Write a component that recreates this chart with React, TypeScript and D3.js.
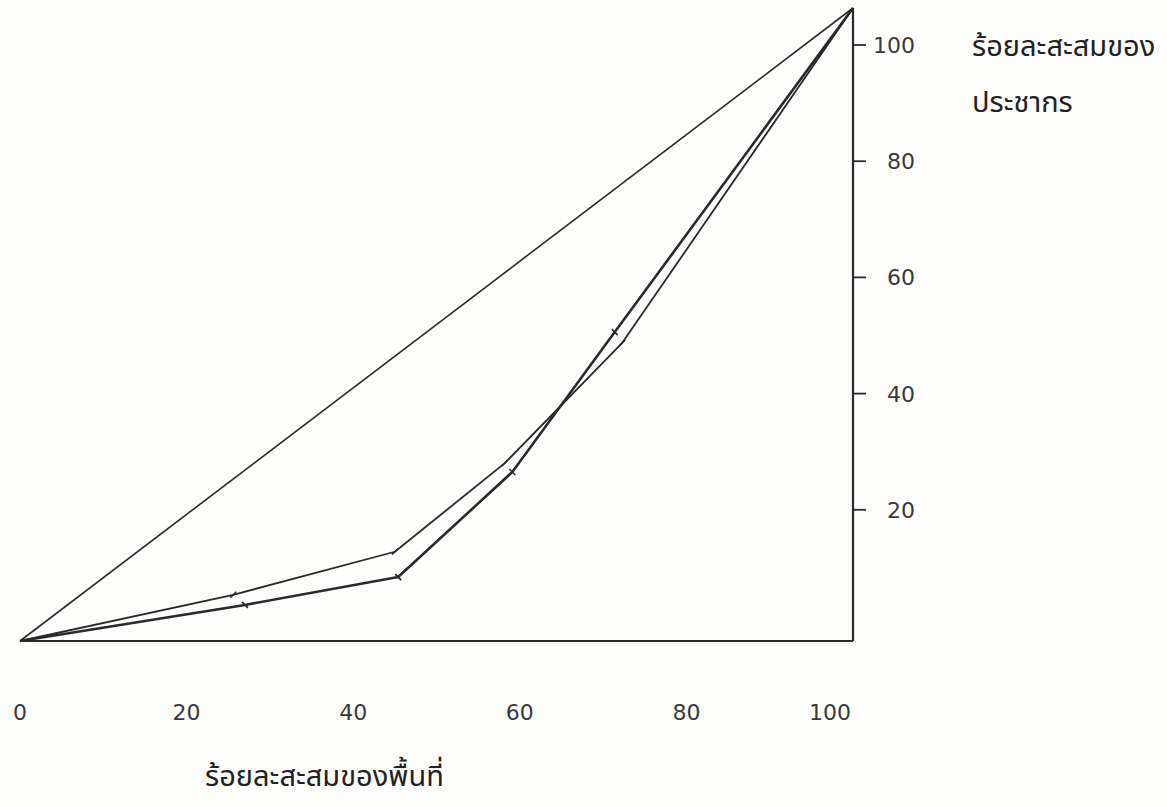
import * as d3 from "d3";

// ร้อยละสะสมของพื้นที่ (x) / ร้อยละสะสมของประชากร (y)
const xTicks = [0, 20, 40, 60, 80, 100];
const yTicks = [20, 40, 60, 80, 100];

const equalityX = [0, 100];
const equalityY = [0, 100];

// เส้นบาง
const thinX = [0, 25.6, 45.0, 58.2, 72.3, 100];
const thinY = [0, 7.3, 14.1, 28.1, 47.1, 100];

// เส้นหนา
const boldX = [0, 27.0, 45.4, 59.1, 71.4, 100];
const boldY = [0, 5.7, 10.1, 26.7, 48.8, 100];

const W = 1167;
const H = 807;
const INK = "#2a2a2a";
const TICK_FONT = "'DejaVu Sans', Verdana, sans-serif";
const THAI_FONT = "'Noto Sans Thai', 'Loma', 'Garuda', 'DejaVu Sans', sans-serif";

type Pt = [number, number];

export default function App() {
  const x = d3.scaleLinear().domain([0, 100]).range([20, 853]);
  const y = d3.scaleLinear().domain([0, 100]).range([641, 8]);
  // ตัวเลขแกนตั้งในต้นฉบับพิมพ์เลื่อนจากเส้นกราฟเล็กน้อย
  const yAxis = d3.scaleLinear().domain([0, 100]).range([626, 45]);

  const line = d3.line<Pt>().x((d) => x(d[0])).y((d) => y(d[1]));
  const zip = (a: number[], b: number[]): Pt[] => a.map((v, i) => [v, b[i]]);

  const equality = zip(equalityX, equalityY);
  const thin = zip(thinX, thinY);
  const bold = zip(boldX, boldY);

  return (
    <svg
      width={W}
      height={H}
      viewBox={`0 0 ${W} ${H}`}
      style={{ position: "absolute", left: 0, top: 0, background: "#fdfdfc" }}
    >
      {/* แกนนอนและแกนตั้ง */}
      <line x1={x(0)} x2={x(100)} y1={y(0)} y2={y(0)} stroke={INK} strokeWidth={2.2} />
      <line x1={x(100)} x2={x(100)} y1={y(0)} y2={y(100)} stroke={INK} strokeWidth={2.2} />

      {yTicks.map((t) => (
        <g key={t}>
          <line x1={x(100)} x2={x(100) + 13} y1={yAxis(t)} y2={yAxis(t)} stroke={INK} strokeWidth={1.8} />
          <text
            x={915}
            y={yAxis(t)}
            dy="0.36em"
            textAnchor="end"
            fontFamily={TICK_FONT}
            fontSize={22}
            fill="#3a3a3a"
          >
            {t}
          </text>
        </g>
      ))}

      {xTicks.map((t) => (
        <text
          key={t}
          x={t === 100 ? x(t) - 2 : x(t)}
          y={712}
          dy="0.36em"
          textAnchor={t === 100 ? "end" : "middle"}
          fontFamily={TICK_FONT}
          fontSize={22}
          fill="#3a3a3a"
        >
          {t}
        </text>
      ))}

      {/* เส้นกราฟ */}
      <path d={line(equality) ?? ""} fill="none" stroke={INK} strokeWidth={1.6} />
      <path d={line(thin) ?? ""} fill="none" stroke={INK} strokeWidth={1.8} strokeLinejoin="round" />
      <path d={line(bold) ?? ""} fill="none" stroke={INK} strokeWidth={2.6} strokeLinejoin="round" />

      {/* เครื่องหมายจุดข้อมูล */}
      {thin.slice(1, -1).map((d, i) => (
        <line
          key={`tm${i}`}
          x1={x(d[0]) - 3}
          x2={x(d[0]) + 3}
          y1={y(d[1]) + 3}
          y2={y(d[1]) - 3}
          stroke={INK}
          strokeWidth={1.6}
        />
      ))}
      {bold.slice(1, -1).map((d, i) => (
        <line
          key={`bm${i}`}
          x1={x(d[0]) - 3}
          x2={x(d[0]) + 3}
          y1={y(d[1]) - 3}
          y2={y(d[1]) + 3}
          stroke={INK}
          strokeWidth={1.6}
        />
      ))}

      {/* ชื่อแกน */}
      <text x={972} y={46} dy="0.36em" fontFamily={THAI_FONT} fontSize={29} fill="#222">
        ร้อยละสะสมของ
      </text>
      <text x={972} y={102} dy="0.36em" fontFamily={THAI_FONT} fontSize={29} fill="#222">
        ประชากร
      </text>
      <text x={205} y={776} dy="0.36em" fontFamily={THAI_FONT} fontSize={29} fill="#222">
        ร้อยละสะสมของพื้นที่
      </text>
    </svg>
  );
}
